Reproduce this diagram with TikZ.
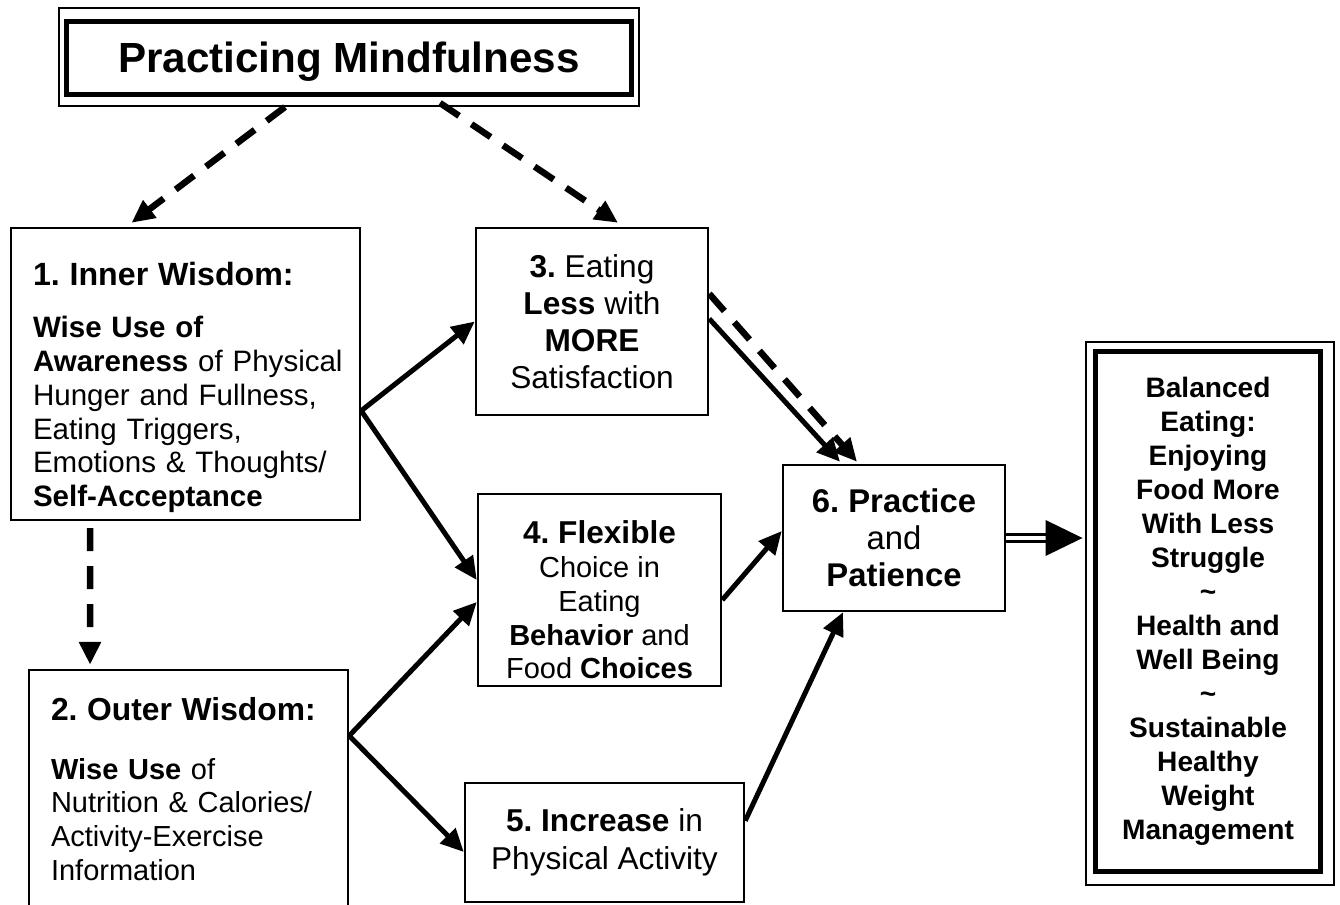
\documentclass[tikz,border=0pt]{standalone}
\usepackage{fontspec}
\setmainfont{Liberation Sans}
\usetikzlibrary{arrows.meta}

\begin{document}
\frenchspacing
\begin{tikzpicture}[x=0.02cm, y=-0.02cm,
            box/.style={draw, line width=0.05cm, align=center, inner sep=0pt},
            lbox/.style={box, align=left, inner xsep=0.44cm},
            arr/.style={line width=0.1cm, -{Triangle[length=0.46cm,width=0.42cm]}},
            dsh/.style={line width=0.13cm, dash pattern=on 0.46cm off 0.3cm, -{Triangle[length=0.46cm,width=0.42cm]}}]
        \clip (0,0) rectangle (1340,905);

        % title with its thin outer frame
        \node[draw, line width=0.1cm, minimum width=11.32cm, minimum height=1.46cm, font=\fontsize{24}{28}\selectfont\bfseries] (title) at (349,58) {\rule{0pt}{0.75cm}Practicing Mindfulness};
        \draw[line width=0.04cm] ([xshift=-0.1cm,yshift=0.22cm]title.north west) rectangle ([xshift=0.1cm,yshift=-0.18cm]title.south east);

        \node[lbox, text width=6.1cm, minimum height=5.84cm, font=\fontsize{16.8}{19.2}\selectfont] (b1) at (185.5,374)
            {\rule{0pt}{1.0cm}{\fontsize{18.3}{20}\selectfont\bfseries 1. Inner Wisdom:}\\[0.38cm]
             \textbf{Wise Use of}\\
             \mbox{\textbf{Awareness} of Physical}\\
             Hunger and Fullness,\\
             Eating Triggers,\\
             Emotions \& Thoughts/\\
             \textbf{Self-Acceptance}};
        \node[lbox, text width=5.5cm, minimum height=4.76cm, font=\fontsize{16.5}{19.2}\selectfont] (b2) at (188.5,789)
            {{\fontsize{18.1}{20}\selectfont\bfseries 2. Outer Wisdom:}\\[0.5cm]
             \textbf{Wise Use} of\\
             Nutrition \& Calories/\\
             Activity-Exercise\\
             Information};
        \node[box, minimum width=4.64cm, minimum height=3.74cm, font=\fontsize{18}{21}\selectfont] (b3) at (592,321.5)
            {\textbf{3.} Eating\\ \textbf{Less} with\\ \textbf{MORE}\\ Satisfaction};
        \node[box, minimum width=4.86cm, minimum height=3.84cm, font=\fontsize{16.5}{19.3}\selectfont] (b4) at (599.5,590)
            {\rule{0pt}{0.85cm}{\fontsize{18}{19.3}\selectfont\bfseries 4. Flexible}\\ Choice in\\ Eating\\ \textbf{Behavior} and\\ Food \textbf{Choices}};
        \node[box, minimum width=5.58cm, minimum height=2.38cm, font=\fontsize{18}{21.6}\selectfont] (b5) at (604.5,842.5)
            {\textbf{5. Increase} in\\ Physical Activity};
        \node[box, minimum width=4.44cm, minimum height=2.92cm, font=\fontsize{18.7}{21}\selectfont] (b6) at (894,538)
            {\textbf{6. Practice}\\ and\\ \textbf{Patience}};

        % outcome box with double frame
        \node[box, line width=0.1cm, minimum width=4.52cm, minimum height=10.42cm, font=\fontsize{16}{19.35}\selectfont\bfseries] (bal) at (1208,611.5)
            {Balanced\\ Eating:\\ Enjoying\\ Food More\\ With Less\\ Struggle\\ \textasciitilde\\ Health and\\ Well Being\\ \textasciitilde\\ Sustainable\\ Healthy\\ Weight\\ Management};
        \draw[line width=0.04cm] ([xshift=-0.14cm,yshift=0.14cm]bal.north west) rectangle ([xshift=0.22cm,yshift=-0.22cm]bal.south east);

        % dashed links
        \draw[dsh] ([xshift=-1.28cm,yshift=-0.2cm]title.south) -- ([xshift=-1.08cm,yshift=0.08cm]b1.north);
        \draw[dsh] ([xshift=1.82cm,yshift=-0.12cm]title.south) -- ([xshift=0.52cm,yshift=0.08cm]b3.north);
        \draw[dsh] ([xshift=-1.91cm,yshift=-0.14cm]b1.south) -- ([xshift=-1.97cm,yshift=0.08cm]b2.north);
        \draw[dsh] ([yshift=-1.34cm]b3.north east) -- ([xshift=-0.74cm,yshift=0.04cm]b6.north);

        % solid links
        \draw[arr] ([yshift=-3.68cm]b1.north east) -- (b3.west);
        \draw[arr] ([yshift=-3.68cm]b1.north east) -- ([yshift=0.2cm]b4.west);
        \draw[arr] ([yshift=-1.34cm]b2.north east) -- ([yshift=-0.24cm]b4.west);
        \draw[arr] ([yshift=-1.34cm]b2.north east) -- ([yshift=-0.19cm]b5.west);
        \draw[arr] ([yshift=-1.84cm]b3.north east) -- ([xshift=-1.08cm,yshift=0.04cm]b6.north);
        \draw[arr] ([yshift=-0.2cm]b4.east) -- ([yshift=0.14cm]b6.west);
        \draw[arr] ([yshift=-0.78cm]b5.north east) -- ([xshift=-1.02cm]b6.south);

        % double arrow to the outcome
        \coordinate (hd) at (b6.east -| bal.west);
        \draw[line width=0.06cm, double distance=0.08cm] (b6.east) -- ([xshift=-0.9cm]hd);
        \fill ([xshift=-0.94cm,yshift=0.36cm]hd) -- ([xshift=-0.2cm]hd) -- ([xshift=-0.94cm,yshift=-0.36cm]hd) -- cycle;
    \end{tikzpicture}
\end{document}
